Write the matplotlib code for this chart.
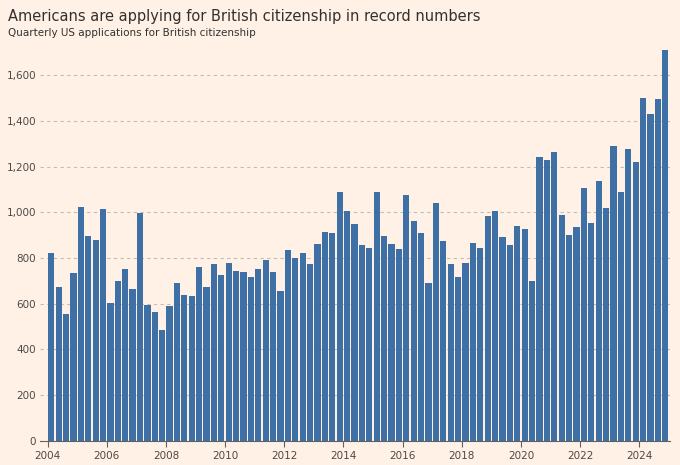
import matplotlib
matplotlib.use("Agg")
import matplotlib.pyplot as plt
import numpy as np

years = list(range(2004, 2025))
values = [820, 675, 555, 735, 1025, 895, 880, 1015, 605, 700, 750, 665,
          995, 595, 565, 485, 590, 690, 640, 635, 760, 675, 775, 725,
          780, 745, 740, 715, 750, 790, 740, 655, 835, 800, 820, 775,
          860, 915, 910, 1090, 1005, 950, 855, 845, 1090, 895, 860, 840,
          1075, 960, 910, 690, 1040, 875, 775, 715, 780, 865, 845, 985,
          1005, 890, 855, 940, 925, 700, 1240, 1230, 1265, 990, 900, 935,
          1105, 955, 1135, 1020, 1290, 1090, 1275, 1220, 1500, 1430, 1495, 1710]
yticks = list(range(0, 1601, 200))

bg = "#FFF1E5"
fig = plt.figure(figsize=(6.8, 4.65), dpi=100, facecolor=bg)
ax = fig.add_axes([0.059, 0.052, 0.927, 0.848], facecolor=bg)
x = 2004 + np.arange(len(values)) * 0.25
ax.bar(x + 0.125, values, width=0.21, color="#3E6FA5", zorder=3)
ax.set_xlim(2003.75, 2025.05)
ax.set_ylim(0, 1725)
ax.set_yticks(yticks)
ax.set_yticklabels([f"{v:,}" for v in yticks])
ax.set_xticks(years[::2])
ax.tick_params(axis="y", length=0, labelsize=7.5, colors="#4d4845", pad=3)
ax.tick_params(axis="x", length=4, labelsize=7.5, colors="#4d4845", color="#66605c")
for s in ["top", "right", "left"]:
    ax.spines[s].set_visible(False)
ax.spines["bottom"].set_color("#66605c")
ax.grid(axis="y", linestyle=(0, (3, 3)), color="#c8bcb2", linewidth=0.8, zorder=0)
fig.text(0.012, 0.965, "Americans are applying for British citizenship in record numbers",
         fontsize=10.5, color="#33302e", va="center")
fig.text(0.012, 0.928, "Quarterly US applications for British citizenship",
         fontsize=7.5, color="#33302e", va="center")
fig.savefig("out.png", facecolor=bg)
